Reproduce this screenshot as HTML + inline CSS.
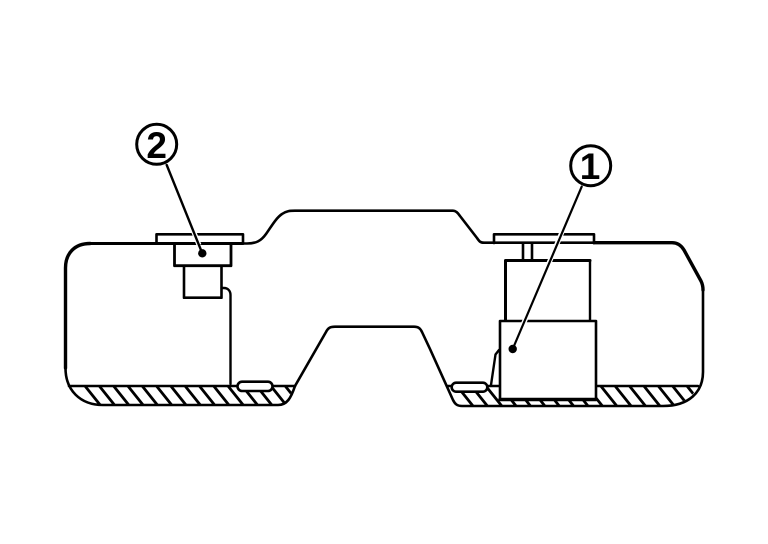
<!DOCTYPE html>
<html>
<head>
<meta charset="utf-8">
<style>
html,body{margin:0;padding:0;background:#fff;width:768px;height:544px;overflow:hidden}
svg{display:block}
text{font-family:"Liberation Sans",sans-serif;font-weight:bold;font-size:37px;fill:#000;text-anchor:middle}
</style>
</head>
<body>
<svg width="768" height="544" viewBox="0 0 768 544" xmlns="http://www.w3.org/2000/svg">
<defs>
<clipPath id="hl"><path d="M66 386H295L287 400Q284 405 278 405H102Q78 404 66 386Z"/></clipPath>
<clipPath id="hr"><path d="M447 386H698Q690 404 663 406H460Q456 406 454 402Z"/></clipPath>
</defs>
<g fill="none" stroke="#000" stroke-width="2.6" stroke-linecap="round" stroke-linejoin="round">
<!-- Hatching -->
<g clip-path="url(#hl)" stroke-width="2.800">
<path d="M85 386l16 20M99.300 386l16 20M113.600 386l16 20M127.900 386l16 20M142.200 386l16 20M156.500 386l16 20M170.800 386l16 20M185.100 386l16 20M199.400 386l16 20M213.700 386l16 20M228 386l16 20M242.300 386l16 20M256.600 386l16 20M270.900 386l16 20M285.200 386l16 20"/>
</g>
<g clip-path="url(#hr)" stroke-width="2.800">
<path d="M457 386l16 20M471.400 386l16 20M485.800 386l16 20M500.100 386l16 20M514.500 386l16 20M528.900 386l16 20M543.300 386l16 20M557.600 386l16 20M572 386l16 20M586.400 386l16 20M600.800 386l16 20M615.100 386l16 20M629.500 386l16 20M643.900 386l16 20M658.300 386l16 20M672.600 386l16 20M687 386l16 20"/>
</g>

<!-- Tank outline -->
<path stroke-width="3" d="M87 243.500H243"/>
<path stroke-width="2.600" d="M243 243.500H247C256 243.500 261 241 266 234C271 227 276 218 282 214C286 211 290 210.700 295 210.700H453C456 210.700 458 213 460 216L477 238C479 241 480 242.700 484 242.700H594"/>
<path stroke-width="3.400" d="M594 242.700H672C677 242.700 681 245 684 250L701 281C702.500 284 703 286 703 290"/>
<path stroke-width="2.600" d="M703 290V372C703 392 689 406 663 406H462C457 406 455 404 453 400L430 349L422 332C420 328 418 326.700 414 326.700H335C330 326.700 328 328 326 332L295 386C291 398 287 405 278 405H103C80 405 65.500 390 65.500 368"/>
<path stroke-width="3.400" d="M65.500 368V268C65.500 253 75 243.500 90 243.500"/>

<!-- Liquid line -->
<path stroke-width="2.600" d="M69 386H238M272 386H295M447 386H452M487 386H500M596 386H698"/>

<!-- Left pump -->
<path stroke-width="2.600" d="M156.500 243V234.300H243V243"/>
<path stroke-width="2.800" d="M174.500 244V265.700H231V244"/>
<path stroke-width="2.600" d="M184 266V297.700H221.500V266"/>
<path stroke-width="2.400" d="M221.500 288H224C228 288 230.500 291 230.500 295V384"/>
<rect x="237.500" y="381.700" width="35" height="9.300" rx="4.600" fill="#fff" stroke-width="2.600"/>

<!-- Right pump -->
<path stroke-width="2.600" d="M494 243V234.300H594V243"/>
<path stroke-width="2.600" d="M523 243V260M532 243V260"/>
<path stroke-width="3" d="M505.500 321V260.500H590"/>
<path stroke-width="2.400" d="M590 260.500V321"/>
<rect x="500" y="321" width="96" height="78.500" fill="#fff" stroke="none"/>
<path stroke-width="2.600" d="M500 399.500V321H596V399.500"/>
<path stroke-width="3.400" d="M500 399.500H596"/>
<path stroke-width="2.400" d="M499 350L495.500 354.500L491 385"/>
<rect x="451.700" y="382.700" width="35.600" height="9" rx="4.500" fill="#fff" stroke-width="2.600"/>

<!-- Leaders with white halo -->
<path stroke="#fff" stroke-width="5" stroke-linecap="butt" d="M187 215L199 245"/>
<path stroke="#fff" stroke-width="5" stroke-linecap="butt" d="M562 232L520 332"/>
<path stroke-width="2.400" d="M166.700 165L202.300 253.300"/>
<path stroke-width="2.200" d="M581.700 186.700L512.700 349"/>

<!-- Callout circles -->
<circle cx="156.700" cy="144.300" r="20" stroke-width="3"/>
<circle cx="590.700" cy="165.700" r="20" stroke-width="3"/>
</g>
<circle cx="202.300" cy="253.300" r="4.200" fill="#000"/>
<circle cx="512.700" cy="349" r="4.200" fill="#000"/>
<text x="156.700" y="158">2</text>
<text x="590" y="179">1</text>
</svg>
</body>
</html>
